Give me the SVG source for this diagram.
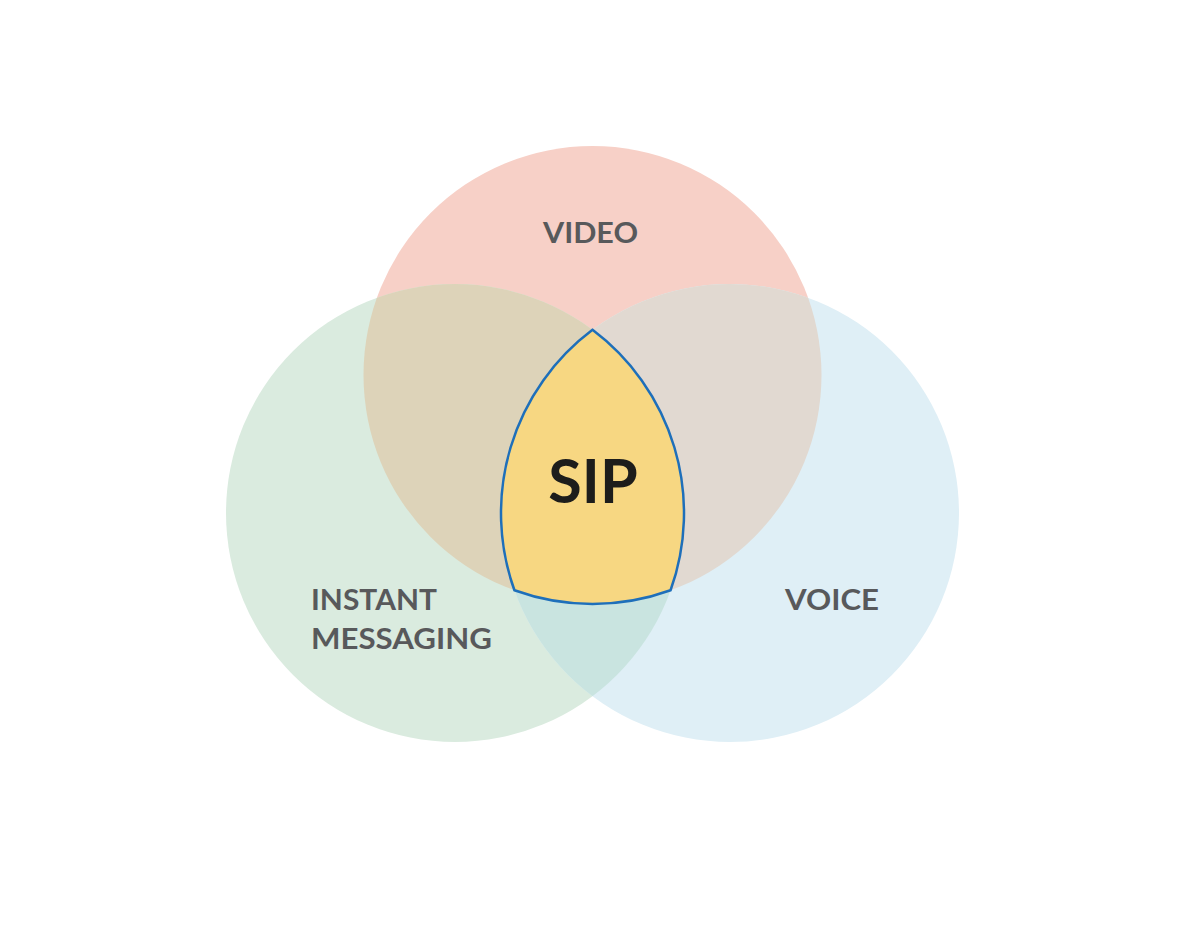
<svg xmlns="http://www.w3.org/2000/svg" width="1185" height="934" viewBox="0 0 1185 934">
<style>
.lbl{font-family:Lato,"Open Sans","Liberation Sans",sans-serif;font-weight:700;font-size:28px;fill:#58595B}
.sip{font-family:Lato,"Open Sans","Liberation Sans",sans-serif;font-weight:700;font-size:61px;fill:#1D1D1B}
</style>
<defs>
<clipPath id="cV"><circle cx="592.5" cy="375" r="229"/></clipPath>
<clipPath id="cI"><circle cx="455" cy="513" r="229"/></clipPath>
</defs>
<rect width="1185" height="934" fill="#FFFFFF"/>
<g id="video"><circle cx="592.5" cy="375" r="229" fill="#F7D0C7"/></g>
<g id="instant-messaging"><circle cx="455" cy="513" r="229" fill="#DAEBDF"/></g>
<g id="voice"><circle cx="730" cy="513" r="229" fill="#DFEFF6"/></g>
<g id="overlaps">
<circle cx="455" cy="513" r="229" fill="#DDD3B9" clip-path="url(#cV)"/>
<circle cx="730" cy="513" r="229" fill="#E1D9D1" clip-path="url(#cV)"/>
<circle cx="730" cy="513" r="229" fill="#C9E4E0" clip-path="url(#cI)"/>
</g>
<g id="sip">
<path d="M592.5 329.87 A229 229 0 0 0 514.43 590.28 A229 229 0 0 0 670.57 590.28 A229 229 0 0 0 592.5 329.87 Z" fill="#F7D782" stroke="#1E6FBA" stroke-width="2.5" stroke-linejoin="miter"/>
<text class="sip" x="593" y="503" text-anchor="middle">SIP</text>
</g>
<g id="labels">
<text class="lbl" x="543" y="243" textLength="95" lengthAdjust="spacingAndGlyphs">VIDEO</text>
<text class="lbl" x="311" y="610" textLength="126" lengthAdjust="spacingAndGlyphs">INSTANT</text>
<text class="lbl" x="311" y="649" textLength="181" lengthAdjust="spacingAndGlyphs">MESSAGING</text>
<text class="lbl" x="785" y="610" textLength="94" lengthAdjust="spacingAndGlyphs">VOICE</text>
</g>
</svg>
